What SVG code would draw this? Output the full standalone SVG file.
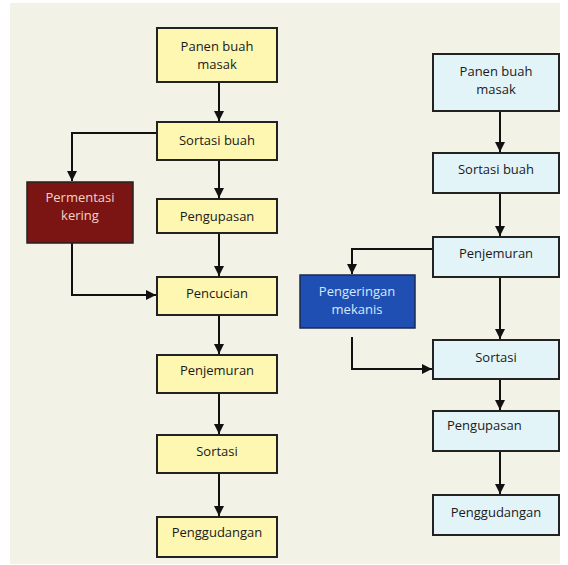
<svg xmlns="http://www.w3.org/2000/svg" width="568" height="565" viewBox="0 0 568 565">
<defs>
<marker id="ah" viewBox="0 0 10 10" refX="10" refY="5" markerWidth="5" markerHeight="5" orient="auto" markerUnits="strokeWidth">
<path d="M0,0 L10,5 L0,10 Z" fill="#111"/>
</marker>
</defs>
<style>
.y{fill:#fdf7b2;stroke:#222;stroke-width:2}
.b{fill:#e3f4f9;stroke:#222;stroke-width:2}
.r{fill:#7a1513;stroke:#222;stroke-width:1.5}
.u{fill:#1f4fb3;stroke:#1a2a55;stroke-width:1.5}
text{font-family:"Open Sans","Noto Sans","Liberation Sans",sans-serif;font-size:13px;text-anchor:middle;fill:#1a1a1a}
.lt{fill:#f4d2c8}
.lb{fill:#d6e8fa}
.c{fill:none;stroke:#111;stroke-width:2;marker-end:url(#ah)}
</style>
<rect x="0" y="0" width="568" height="565" fill="#ffffff"/>
<rect x="10" y="3" width="550" height="561" fill="#f2f2e7"/>
<g id="connectors">
<path class="c" d="M219,82 V121"/>
<path class="c" d="M219,160 V198"/>
<path class="c" d="M157,133 H72 V181"/>
<path class="c" d="M219,233 V276"/>
<path class="c" d="M72,243 V295 H156"/>
<path class="c" d="M219,315 V354"/>
<path class="c" d="M219,393 V434"/>
<path class="c" d="M219,473 V516"/>
<path class="c" d="M500,111 V152"/>
<path class="c" d="M500,193 V236"/>
<path class="c" d="M433,249 H352 V274"/>
<path class="c" d="M500,277 V339"/>
<path class="c" d="M352,337 V369 H432"/>
<path class="c" d="M500,379 V410"/>
<path class="c" d="M500,451 V494"/>
</g>
<g id="l-panen"><rect class="y" x="157" y="28" width="120" height="54"/><text x="217" y="51">Panen buah</text><text x="217" y="69">masak</text></g>
<g id="l-sortasi-buah"><rect class="y" x="157" y="122" width="120" height="38"/><text x="217" y="145">Sortasi buah</text></g>
<g id="l-pengupasan"><rect class="y" x="157" y="199" width="120" height="34"/><text x="217" y="221">Pengupasan</text></g>
<g id="l-pencucian"><rect class="y" x="157" y="277" width="120" height="38"/><text x="217" y="298">Pencucian</text></g>
<g id="l-penjemuran"><rect class="y" x="157" y="355" width="120" height="38"/><text x="217" y="375">Penjemuran</text></g>
<g id="l-sortasi"><rect class="y" x="157" y="435" width="120" height="38"/><text x="217" y="456">Sortasi</text></g>
<g id="l-penggudangan"><rect class="y" x="157" y="517" width="120" height="40"/><text x="217" y="537">Penggudangan</text></g>
<g id="permentasi"><rect class="r" x="27" y="182" width="106" height="61"/><text class="lt" x="80" y="202">Permentasi</text><text class="lt" x="80" y="220">kering</text></g>
<g id="r-panen"><rect class="b" x="433" y="54" width="126" height="57"/><text x="496" y="76">Panen buah</text><text x="496" y="94">masak</text></g>
<g id="r-sortasi-buah"><rect class="b" x="433" y="153" width="126" height="40"/><text x="496" y="174">Sortasi buah</text></g>
<g id="r-penjemuran"><rect class="b" x="433" y="237" width="126" height="40"/><text x="496" y="258">Penjemuran</text></g>
<g id="pengeringan"><rect class="u" x="300" y="275" width="115" height="53"/><text class="lb" x="357" y="296">Pengeringan</text><text class="lb" x="357" y="314">mekanis</text></g>
<g id="r-sortasi"><rect class="b" x="433" y="340" width="126" height="39"/><text x="496" y="362">Sortasi</text></g>
<g id="r-pengupasan"><rect class="b" x="433" y="411" width="126" height="40"/><text x="447" y="430" style="text-anchor:start">Pengupasan</text></g>
<g id="r-penggudangan"><rect class="b" x="433" y="495" width="126" height="40"/><text x="496" y="517">Penggudangan</text></g>
</svg>
